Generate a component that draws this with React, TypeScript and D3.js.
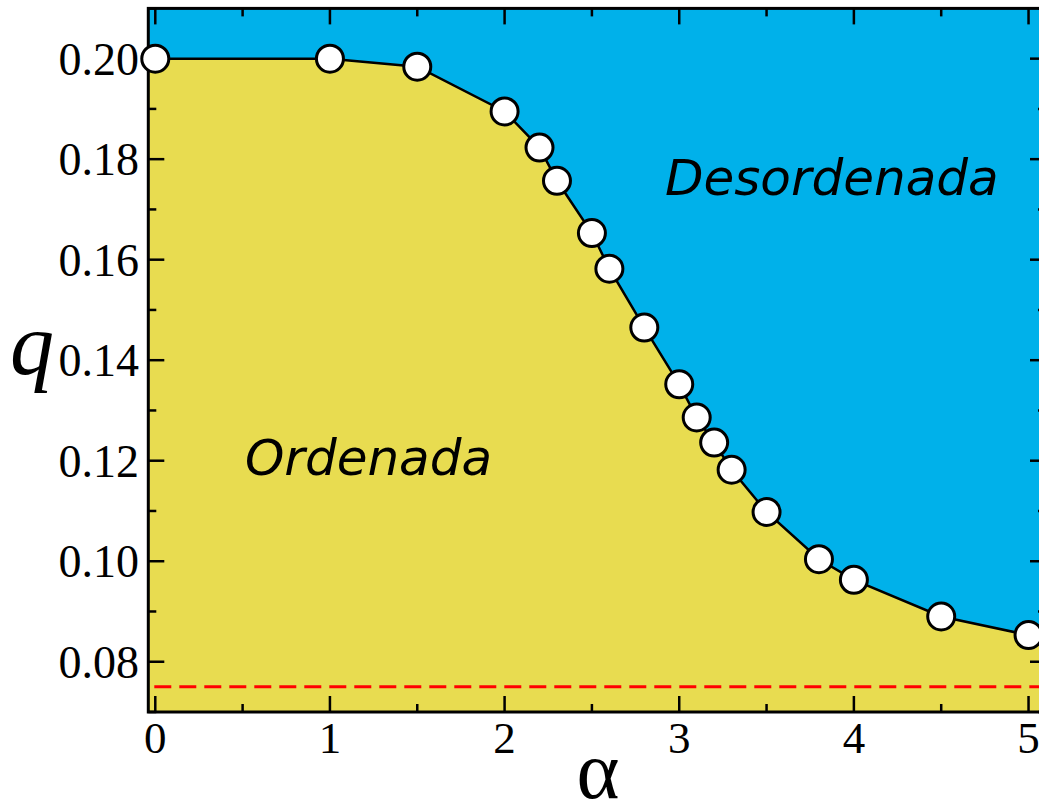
import React from "react";
import * as d3 from "d3";

// Phase boundary q_c(alpha)
const alphaValues = [0, 1, 1.5, 2, 2.2, 2.3, 2.5, 2.6, 2.8, 3.0, 3.1, 3.2, 3.3, 3.5, 3.8, 4.0, 4.5, 5.0];
const qValues = [0.2, 0.2, 0.1984, 0.1895, 0.1823, 0.1757, 0.1653, 0.1582, 0.1465, 0.1352, 0.1286, 0.1236, 0.1182, 0.1098, 0.1004, 0.0963, 0.089, 0.0853];
const referenceQ = 0.075;

const xTicks = [0, 1, 2, 3, 4, 5];
const xMinorTicks = [0.5, 1.5, 2.5, 3.5, 4.5];
const yTicks = [0.08, 0.1, 0.12, 0.14, 0.16, 0.18, 0.2];
const yMinorTicks = [0.07, 0.09, 0.11, 0.13, 0.15, 0.17, 0.19, 0.21];

const W = 1039;
const H = 807;
const left = 148.3;
const right = 1046;
const top = 8.4;
const bottom = 712;

const BLUE = "#00B1EA";
const YELLOW = "#E8DC50";

export default function App() {
  const x = d3.scaleLinear().domain([-0.04, 5.1]).range([left, right]);
  const y = d3.scaleLinear().domain([0.07, 0.21]).range([bottom, top]);

  const pts = alphaValues.map((a, i) => [a, qValues[i]] as [number, number]);
  const extended: [number, number][] = [[-0.04, qValues[0]], ...pts, [5.1, qValues[qValues.length - 1] - 0.0012]];

  const area = d3
    .area<[number, number]>()
    .x((d) => x(d[0]))
    .y0(y(0.07))
    .y1((d) => y(d[1]));
  const line = d3
    .line<[number, number]>()
    .x((d) => x(d[0]))
    .y((d) => y(d[1]));

  const serif = "'Liberation Serif'";
  const sans = "'DejaVu Sans', sans-serif";

  return (
    <svg width={W} height={H} style={{ position: "absolute", left: 0, top: 0, display: "block" }}>
      <defs>
        <clipPath id="plotClip">
          <rect x={left} y={top} width={right - left} height={bottom - top} />
        </clipPath>
      </defs>
      <rect x={0} y={0} width={W} height={H} fill="#fff" />
      <g clipPath="url(#plotClip)">
        <rect x={left} y={top} width={right - left} height={bottom - top} fill={BLUE} />
        <path d={area(extended) ?? ""} fill={YELLOW} />
        <path d={line(extended) ?? ""} fill="none" stroke="#000" strokeWidth={2.5} />
        <line
          x1={left}
          x2={right}
          y1={y(referenceQ)}
          y2={y(referenceQ)}
          stroke="#FF0000"
          strokeWidth={3}
          strokeDasharray="17 8"
          strokeDashoffset={-6}
        />
      </g>

      <text x={665} y={195} fontFamily={sans} fontStyle="italic" fontSize={50} fill="#000">
        Desordenada
      </text>
      <text x={245} y={475} fontFamily={sans} fontStyle="italic" fontSize={50} fill="#000">
        Ordenada
      </text>

      {/* ticks on all four sides, pointing inward */}
      <g stroke="#000" strokeWidth={2.5}>
        {xTicks.map((t) => (
          <g key={"xt" + t}>
            <line x1={x(t)} x2={x(t)} y1={bottom} y2={bottom - 16} />
            <line x1={x(t)} x2={x(t)} y1={top} y2={top + 16} />
          </g>
        ))}
        {xMinorTicks.map((t) => (
          <g key={"xm" + t}>
            <line x1={x(t)} x2={x(t)} y1={bottom} y2={bottom - 8} />
            <line x1={x(t)} x2={x(t)} y1={top} y2={top + 8} />
          </g>
        ))}
        {yTicks.map((t) => (
          <g key={"yt" + t}>
            <line x1={left} x2={left + 16} y1={y(t)} y2={y(t)} />
            <line x1={right} x2={right - 16} y1={y(t)} y2={y(t)} />
          </g>
        ))}
        {yMinorTicks.map((t) => (
          <g key={"ym" + t}>
            <line x1={left} x2={left + 8} y1={y(t)} y2={y(t)} />
            <line x1={right} x2={right - 8} y1={y(t)} y2={y(t)} />
          </g>
        ))}
      </g>
      <rect x={left} y={top} width={right - left} height={bottom - top} fill="none" stroke="#000" strokeWidth={3} />

      {pts.map((p, i) => (
        <circle key={"pt" + i} cx={x(p[0])} cy={y(p[1])} r={13.5} fill="#fff" stroke="#000" strokeWidth={3} />
      ))}

      {xTicks.map((t) => (
        <text key={"xl" + t} x={x(t)} y={753} textAnchor="middle" fontFamily={serif} fontSize={45} fill="#000">
          {t}
        </text>
      ))}
      {yTicks.map((t) => (
        <text key={"yl" + t} x={139} y={y(t) + 16} textAnchor="end" fontFamily={serif} fontSize={46} fill="#000">
          {t.toFixed(2)}
        </text>
      ))}

      <text x={598} y={798} textAnchor="middle" fontFamily={serif} fontSize={82} fill="#000">
        α
      </text>
      <text x={10} y={374} fontFamily={serif} fontStyle="italic" fontSize={88} fill="#000">
        q
      </text>
    </svg>
  );
}
